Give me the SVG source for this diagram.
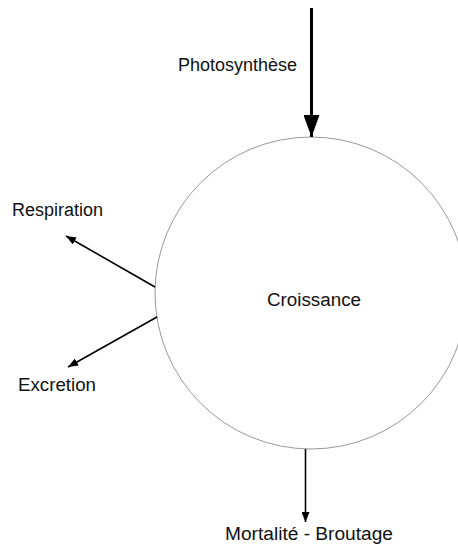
<svg xmlns="http://www.w3.org/2000/svg" width="458" height="546" viewBox="0 0 458 546">
  <style>
    text { font-family: "Liberation Sans", Arial, sans-serif; font-size: 18px; fill: #111; }
    .flow { stroke: #000; stroke-width: 1.6; fill: none; }
    .main { stroke: #000; stroke-width: 3; fill: none; }
  </style>
  <defs>
    <marker id="head" viewBox="0 0 10 8" refX="10" refY="4" markerWidth="10" markerHeight="8" markerUnits="userSpaceOnUse" orient="auto">
      <path d="M0,0 L10,4 L0,8 Z" fill="#000"/>
    </marker>
    <marker id="headBig" viewBox="0 0 22 16" refX="22" refY="8" markerWidth="22" markerHeight="16" markerUnits="userSpaceOnUse" orient="auto">
      <path d="M0,0 L22,8 L0,16 Z" fill="#000"/>
    </marker>
  </defs>
  <rect width="458" height="546" fill="#fff"/>

  <g id="croissance">
    <circle cx="311" cy="293" r="156" fill="none" stroke="#999" stroke-width="1"/>
    <text x="267" y="306" textLength="94" lengthAdjust="spacingAndGlyphs">Croissance</text>
  </g>

  <g id="photosynthese">
    <text x="178" y="71" textLength="119" lengthAdjust="spacingAndGlyphs">Photosynthèse</text>
  </g>

  <g id="respiration">
    <text x="12" y="216" textLength="91" lengthAdjust="spacingAndGlyphs">Respiration</text>
  </g>

  <g id="excretion">
    <text x="18" y="391" textLength="78" lengthAdjust="spacingAndGlyphs">Excretion</text>
  </g>

  <g id="mortalite">
    <text x="225" y="540" textLength="168" lengthAdjust="spacingAndGlyphs">Mortalité - Broutage</text>
  </g>

  <g id="connectors">
    <line class="main" x1="311.5" y1="8" x2="311.5" y2="137" marker-end="url(#headBig)"/>
    <line class="flow" x1="155" y1="287" x2="66" y2="236" marker-end="url(#head)"/>
    <line class="flow" x1="157" y1="317" x2="68" y2="367" marker-end="url(#head)"/>
    <line class="flow" x1="305.5" y1="449" x2="305.5" y2="522" marker-end="url(#head)"/>
  </g>
</svg>
